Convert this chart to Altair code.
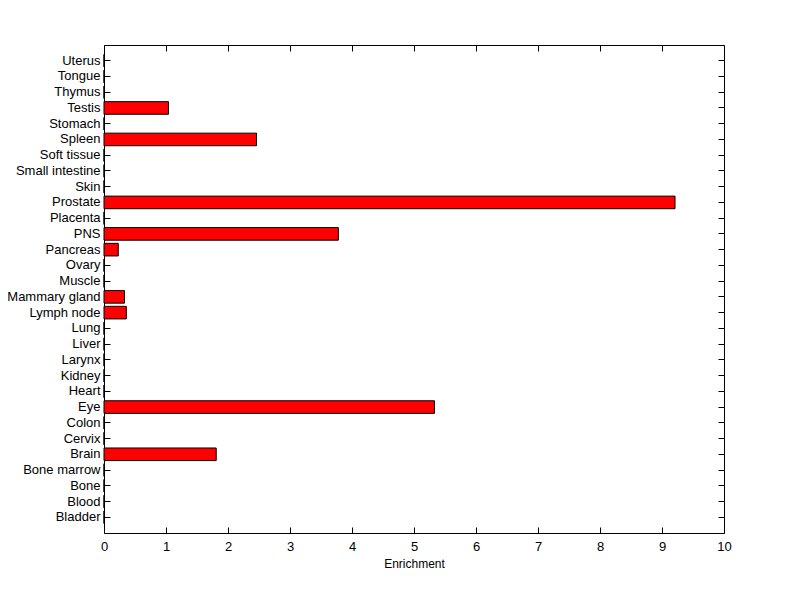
import altair as alt
import pandas as pd

tissues = ["Uterus", "Tongue", "Thymus", "Testis", "Stomach", "Spleen", "Soft tissue",
           "Small intestine", "Skin", "Prostate", "Placenta", "PNS", "Pancreas", "Ovary",
           "Muscle", "Mammary gland", "Lymph node", "Lung", "Liver", "Larynx", "Kidney",
           "Heart", "Eye", "Colon", "Cervix", "Brain", "Bone marrow", "Bone", "Blood", "Bladder"]
enrichment = [0, 0, 0, 1.04, 0, 2.46, 0,
              0, 0, 9.21, 0, 3.78, 0.23, 0,
              0, 0.33, 0.36, 0, 0, 0, 0,
              0, 5.33, 0, 0, 1.81, 0, 0, 0, 0]
x_ticks = list(range(0, 11))

df = pd.DataFrame({"tissue": tissues, "enrichment": enrichment})

W, H = 620, 488
FONT = "Liberation Sans"

yscale = alt.Scale(domain=tissues, paddingInner=0.2, paddingOuter=0.6)
xscale = alt.Scale(domain=[0, 10], nice=False, zero=True)

base = alt.Chart(df)

bars = base.mark_bar(color="#ff0000", stroke="black", strokeWidth=1).encode(
    y=alt.Y("tissue:N", sort=tissues, scale=yscale,
            axis=alt.Axis(orient="left", title=None, ticks=False, labelPadding=4,
                          labelFontSize=13, labelFont=FONT, labelColor="black",
                          domain=False)),
    x=alt.X("enrichment:Q", scale=xscale,
            axis=alt.Axis(orient="bottom", values=x_ticks, title="Enrichment",
                          ticks=False, labelPadding=7, labelFontSize=13, labelFont=FONT,
                          labelColor="black", labelFlush=False, labelBound=False,
                          titleFontSize=12, titleFont=FONT,
                          titleFontWeight="normal", titleColor="black", titlePadding=5,
                          grid=False, domain=False)),
)

ticks_a = base.mark_bar(opacity=0).encode(
    y=alt.Y("tissue:N", sort=tissues, scale=yscale,
            axis=alt.Axis(orient="right", offset=-W, title=None, labels=False, domain=False,
                          tickSize=6, tickColor="black")),
    x=alt.X("enrichment:Q", scale=xscale,
            axis=alt.Axis(orient="top", offset=-H, values=x_ticks, title=None, labels=False,
                          domain=False, grid=False, tickSize=6, tickColor="black")),
)

ticks_b = base.mark_bar(opacity=0).encode(
    y=alt.Y("tissue:N", sort=tissues, scale=yscale,
            axis=alt.Axis(orient="left", offset=-W, title=None, labels=False, domain=False,
                          tickSize=6, tickColor="black")),
    x=alt.X("enrichment:Q", scale=xscale,
            axis=alt.Axis(orient="bottom", offset=-H, values=x_ticks, title=None, labels=False,
                          domain=False, grid=False, tickSize=6, tickColor="black")),
)

chart = alt.layer(bars, ticks_a, ticks_b).resolve_axis(
    x="independent", y="independent"
).properties(
    width=W, height=H,
    autosize=alt.AutoSizeParams(type="none"),
    padding={"left": 96, "top": 37, "right": 68, "bottom": 50},
    background="white",
).configure_view(stroke="black", strokeWidth=1)

chart.save("out.html", embed_options={"renderer": "svg", "actions": False})
